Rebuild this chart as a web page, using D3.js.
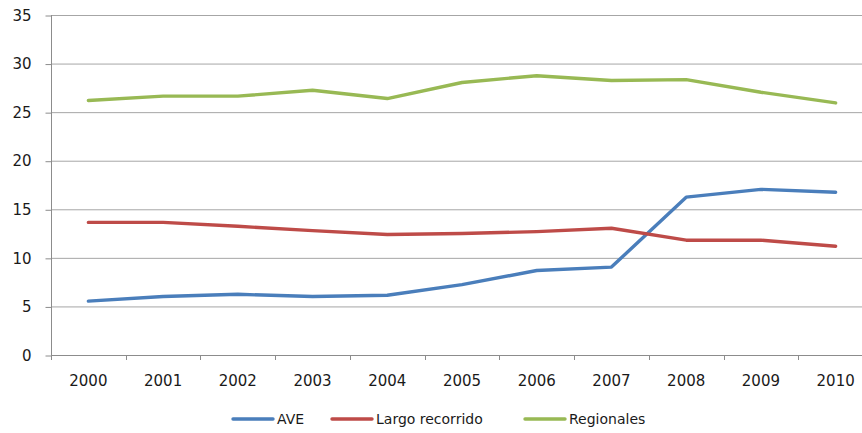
<!DOCTYPE html>
<html><head><meta charset="utf-8">
<script src="https://cdn.jsdelivr.net/npm/d3@7"></script>
<style>body{margin:0;background:#fff}svg{display:block}text{font-family:"DejaVu Sans",sans-serif;fill:#1a1a1a}</style>
</head><body><svg id="c" width="862" height="433"></svg>
<script>
const years = ["2000","2001","2002","2003","2004","2005","2006","2007","2008","2009","2010"];
const ave = [5.55,6.02,6.25,6.02,6.15,7.25,8.7,9.05,16.25,17.05,16.75];
const largo = [13.65,13.65,13.25,12.8,12.4,12.5,12.7,13.05,11.82,11.82,11.2];
const regionales = [26.2,26.65,26.65,27.25,26.4,28.05,28.75,28.25,28.35,27.05,25.95];
const yTicks = [0,5,10,15,20,25,30,35];
const seriesNames = ["AVE","Largo recorrido","Regionales"];
const colors = ["#4a7ebb","#be4b48","#98b954"];

const svg = d3.select("#c");
const x = d3.scaleBand().domain(years).range([51, 873]);
const y = d3.scaleLinear().domain([0,35]).range([355, 15]);

// gridlines
svg.append("g").selectAll("line").data(yTicks.filter(d=>d>0)).join("line")
  .attr("x1",51).attr("x2",873).attr("y1",d=>y(d)+0.5).attr("y2",d=>y(d)+0.5)
  .attr("stroke","#a6a6a6").attr("stroke-width",1);

// y axis
const ya = svg.append("g").attr("transform","translate(51.5,0)")
  .call(d3.axisLeft(y).tickValues(yTicks).tickSize(6).tickPadding(14));
ya.select(".domain").attr("stroke","#8c8c8c").attr("d","M0,"+y(35)+"V"+y(0));
ya.selectAll(".tick line").attr("stroke","#8c8c8c").attr("transform","translate(0,0.5)");
ya.selectAll("text").style("font-size","15px").attr("fill","#1a1a1a").attr("dy","0.35em");

// x axis
const xa = svg.append("g").attr("transform","translate(0,355.5)")
  .call(d3.axisBottom(x).tickSize(0).tickPadding(20));
xa.select(".domain").attr("stroke","#8c8c8c").attr("d","M51,0H873");
xa.selectAll("text").style("font-size","15px").attr("fill","#1a1a1a");
svg.append("g").selectAll("line").data(years.concat(["end"])).join("line")
  .attr("x1",(d,i)=>Math.round(51+i*x.step())+0.5).attr("x2",(d,i)=>Math.round(51+i*x.step())+0.5)
  .attr("y1",355).attr("y2",360).attr("stroke","#8c8c8c");

// lines
const data = [ave, largo, regionales];
const line = d3.line().x((d,i)=>x(years[i])+x.bandwidth()/2).y(d=>y(d));
svg.append("g").selectAll("path").data(data).join("path")
  .attr("d",line).attr("fill","none").attr("stroke",(d,i)=>colors[i])
  .attr("stroke-width",3.4).attr("stroke-linejoin","round").attr("stroke-linecap","round");

// legend
const lx = [233,332,525];
const lg = svg.append("g");
seriesNames.forEach((n,i)=>{
  lg.append("line").attr("x1",lx[i]).attr("x2",lx[i]+40).attr("y1",419).attr("y2",419)
    .attr("stroke",colors[i]).attr("stroke-width",3.4).attr("stroke-linecap","round");
  lg.append("text").attr("x",lx[i]+44).attr("y",419).attr("dy","0.35em")
    .style("font-size","14px").text(n);
});
</script></body></html>
